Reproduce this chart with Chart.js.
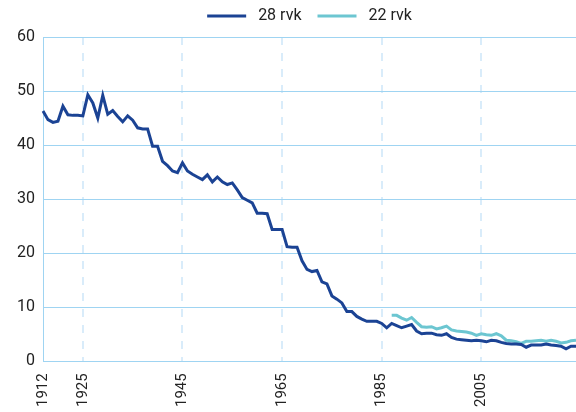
<!DOCTYPE html>
<html>
<head>
<meta charset="utf-8">
<script src="https://cdn.jsdelivr.net/npm/chart.js@4/dist/chart.umd.min.js"></script>
<style>
  body { margin: 0; background: #fff; }
  #wrap { width: 576px; height: 412px; }
</style>
</head>
<body>
<div id="wrap"><canvas id="myChart"></canvas></div>
<script>
// years: 1912, then every year from 1918
const years = [1912];
for (let y = 1918; y <= 2024; y++) years.push(y);

const tickYears = [1912, 1925, 1945, 1965, 1985, 2005];

const weeks28 = [
    46.3,
    44.7, 44.2, 44.4, 47.2, 45.6, 45.5, 45.5, 45.4, 49.3, 47.8,
    45.0, 49.2, 45.7, 46.4, 45.3, 44.3, 45.4, 44.6, 43.2, 43.0,
    43.0, 39.8, 39.8, 37.0, 36.2, 35.2, 34.9, 36.7, 35.2, 34.6,
    34.1, 33.6, 34.5, 33.2, 34.1, 33.2, 32.7, 33.0, 31.7, 30.3,
    29.8, 29.3, 27.4, 27.4, 27.3, 24.4, 24.4, 24.4, 21.2, 21.1,
    21.1, 18.6, 17.0, 16.6, 16.8, 14.7, 14.3, 12.1, 11.5, 10.8,
    9.2, 9.2, 8.3, 7.8, 7.4, 7.4, 7.4, 7.0, 6.2, 7.0,
    6.6, 6.2, 6.5, 6.8, 5.6, 5.1, 5.2, 5.2, 4.9, 4.8,
    5.1, 4.4, 4.1, 4.0, 3.9, 3.8, 3.9, 3.8, 3.6, 3.9,
    3.8, 3.5, 3.3, 3.2, 3.2, 3.1, 2.6, 3.0, 3.0, 3.0,
    3.2, 3.0, 2.9, 2.8, 2.3, 2.8, 2.8
];

// 22 week series starts in 1987
const weeks22 = [
    8.5, 8.5, 8.0, 7.6, 8.1, 7.2, 6.4, 6.3, 6.4, 6.0,
    6.2, 6.5, 5.8, 5.6, 5.5, 5.4, 5.2, 4.8, 5.1, 4.9,
    4.8, 5.1, 4.7, 3.9, 3.8, 3.6, 3.3, 3.7, 3.7, 3.8,
    3.9, 3.7, 3.9, 3.7, 3.4, 3.5, 3.8, 3.9
];
const weeks22Start = 1987;

const weeks22Full = years.map(y => {
    const k = y - weeks22Start;
    return k >= 0 && k < weeks22.length ? weeks22[k] : null;
});

const FONT = "Roboto, 'Liberation Sans', sans-serif";

// extra room under the legend
const legendSpace = {
    id: 'legendSpace',
    beforeInit(chart) {
        const fit = chart.legend.fit;
        chart.legend.fit = function () {
            fit.bind(chart.legend)();
            this.height += 3;
        };
    }
};

const ctx = document.getElementById('myChart').getContext('2d');
const myChart = new Chart(ctx, {
    type: 'line',
    data: {
        labels: years,
        datasets: [{
            label: ' 28 rvk',
            data: weeks28,
            borderColor: '#1b4394',
            backgroundColor: '#1b4394',
            borderWidth: 3,
            pointRadius: 0,
            tension: 0
        }, {
            label: ' 22 rvk',
            data: weeks22Full,
            borderColor: '#6cc6d1',
            backgroundColor: '#6cc6d1',
            borderWidth: 3,
            pointRadius: 0,
            tension: 0
        }]
    },
    options: {
        responsive: true,
        maintainAspectRatio: false,
        animation: false,
        layout: {
            padding: { top: -8, right: 0, bottom: 5, left: 0 }
        },
        plugins: {
            legend: {
                position: 'top',
                fullSize: false,
                labels: {
                    boxWidth: 39,
                    boxHeight: 0,
                    padding: 16,
                    color: '#222',
                    font: { family: FONT, size: 16 }
                }
            },
            tooltip: { enabled: false }
        },
        scales: {
            x: {
                type: 'category',
                border: { display: false, dash: [8, 8] },
                grid: {
                    lineWidth: 2,
                    drawTicks: true,
                    tickLength: 12,
                    tickColor: 'transparent',
                    color: (c) => {
                        const lbl = c.tick ? years[c.tick.value] : null;
                        return (lbl && lbl !== 1912 && tickYears.includes(lbl)) ? '#d9ecfa' : 'transparent';
                    }
                },
                ticks: {
                    autoSkip: false,
                    minRotation: 90,
                    maxRotation: 90,
                    padding: 0,
                    color: '#222',
                    font: { family: FONT, size: 15 },
                    callback: function (value) {
                        const y = years[value];
                        return tickYears.includes(y) ? String(y) : null;
                    }
                }
            },
            y: {
                min: 0,
                max: 60,
                afterFit: (scale) => { scale.width = 43; },
                border: { display: true, color: '#9fd4f2', width: 1 },
                grid: {
                    color: '#9fd4f2',
                    lineWidth: 1,
                    drawTicks: false
                },
                ticks: {
                    stepSize: 10,
                    padding: 8,
                    color: '#222',
                    font: { family: FONT, size: 16 }
                }
            }
        }
    },
    plugins: [legendSpace]
});
</script>
</body>
</html>
